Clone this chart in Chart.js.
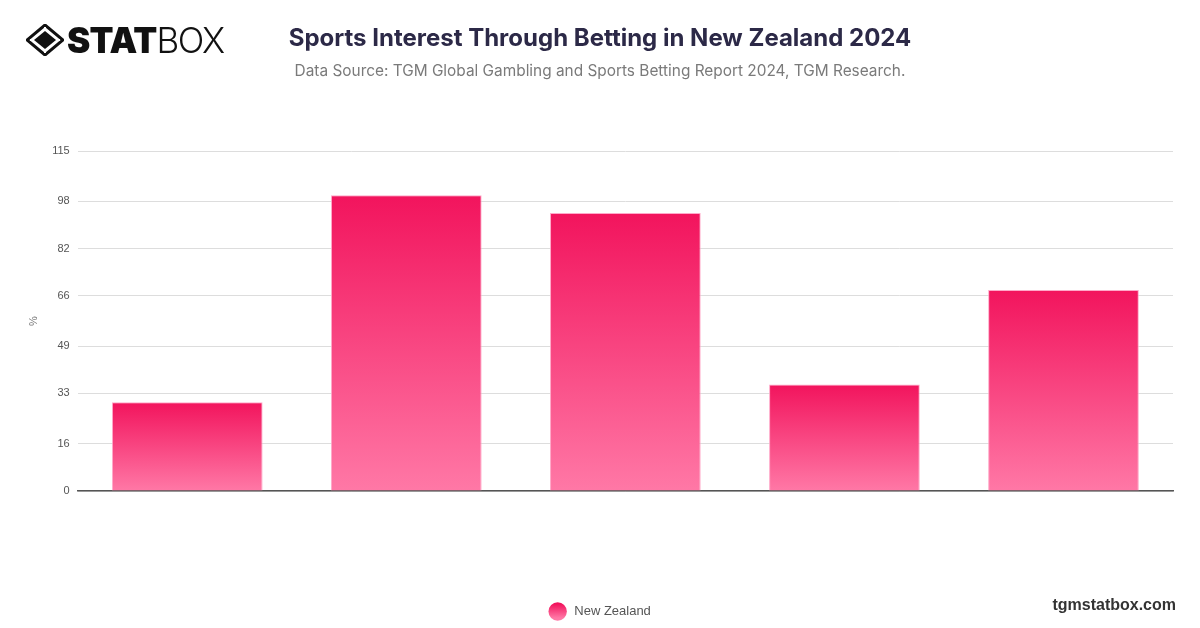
<!DOCTYPE html>
<html>
<head>
<meta charset="utf-8">
<script src="https://cdn.jsdelivr.net/npm/chart.js@4/dist/chart.umd.min.js"></script>
<style>
    html, body { margin: 0; padding: 0; background: #fff; }
    #page { position: relative; width: 1200px; height: 628px; overflow: hidden; font-family: Inter, 'Noto Sans', sans-serif; }
    #logo { position: absolute; left: 26px; top: 22px; height: 36px; display: flex; align-items: center; }
    #logo .stat { font-family: Inter, sans-serif; font-weight: 900; font-size: 35px; letter-spacing: -0.8px; color: #111; margin-left: 3px; }
    #logo .box { font-family: Inter, sans-serif; font-weight: 300; font-size: 35px; letter-spacing: -1.5px; color: #111; }
    #title { position: absolute; left: 0; width: 1200px; top: 23px; text-align: center; font-weight: 700; font-size: 24px; color: #2c2947; }
    #subtitle { position: absolute; left: 0; width: 1200px; top: 61px; text-align: center; font-weight: 400; font-size: 15.4px; color: #7a7a7a; }
    #brand { position: absolute; right: 24px; top: 596px; font-family: 'Liberation Sans', Arial, sans-serif; font-weight: 700; font-size: 16px; color: #333; }
    #wrap { position: absolute; left: 0; top: 0; width: 1200px; height: 628px; }
</style>
</head>
<body>
<div id="page">
    <div id="wrap"><canvas id="chart" width="1200" height="628"></canvas></div>
    <div id="logo">
        <svg width="38" height="32" viewBox="0 0 38 32">
            <path d="M19 1 L37 16 L19 31 L1 16 Z" fill="none" stroke="#111" stroke-width="3"/>
            <path d="M19 7 L30 16 L19 25 L8 16 Z" fill="#111"/>
            <path d="M4 16 L8 16 M30 16 L34 16 M19 3 L19 7 M19 25 L19 29" stroke="#fff" stroke-width="2"/>
        </svg>
        <span class="stat">STAT</span><span class="box">BOX</span>
    </div>
    <div id="title">Sports Interest Through Betting in New Zealand 2024</div>
    <div id="subtitle">Data Source: TGM Global Gambling and Sports Betting Report 2024, TGM Research.</div>
    <div id="brand">tgmstatbox.com</div>
</div>
<script>
// ---------------------------------------------------------------------------
// Data
// ---------------------------------------------------------------------------

const categories = ['Rugby', 'Football', 'Cricket', 'Basketball', 'Horse Racing'];
const seriesName = 'New Zealand';
const seriesValues = [30, 100, 94, 36, 68];
const yTickValues = [0, 16, 33, 49, 66, 82, 98, 115];

const topColour = '#f2145d';
const bottomColour = '#ff78a6';

Chart.defaults.animation = false;
Chart.defaults.font.family = "'Liberation Sans', Arial, sans-serif";

function barGradient(context) {
    const chart = context.chart;
    const yScale = chart.scales.y;
    if (!yScale || !chart.chartArea) return topColour;
    const value = context.raw;
    const top = yScale.getPixelForValue(value);
    const base = yScale.getPixelForValue(0);
    const gradient = chart.ctx.createLinearGradient(0, top, 0, base);
    gradient.addColorStop(0, topColour);
    gradient.addColorStop(1, bottomColour);
    return gradient;
}

function legendGradient(chart) {
    const gradient = chart.ctx.createLinearGradient(0, 604, 0, 618);
    gradient.addColorStop(0, topColour);
    gradient.addColorStop(1, bottomColour);
    return gradient;
}

// nudge the legend so it sits centred on the page rather than the padded box
const legendShift = {
    id: 'legendShift',
    afterLayout(chart) {
        chart.legend.left += 4;
        chart.legend.right += 4;
    }
};

new Chart(document.getElementById('chart'), {
    type: 'bar',
    data: {
        labels: categories,
        datasets: [{
            label: seriesName,
            data: seriesValues,
            backgroundColor: barGradient,
            borderColor: 'rgba(255, 160, 195, 0.9)',
            borderWidth: 1,
            categoryPercentage: 0.8,
            barPercentage: 0.86
        }]
    },
    plugins: [legendShift],
    options: {
        responsive: false,
        maintainAspectRatio: false,
        layout: { padding: { top: 151, left: 21, right: 27, bottom: 0 } },
        plugins: {
            title: { display: false },
            tooltip: { enabled: false },
            legend: {
                position: 'bottom',
                labels: {
                    usePointStyle: true,
                    pointStyle: 'circle',
                    boxWidth: 14,
                    boxHeight: 14,
                    padding: 10,
                    color: '#555',
                    font: { size: 13 },
                    generateLabels(chart) {
                        return [{
                            text: ' ' + seriesName,
                            fillStyle: legendGradient(chart),
                            strokeStyle: 'rgba(255, 160, 195, 0.9)',
                            fontColor: '#555',
                            lineWidth: 0,
                            pointStyle: 'circle',
                            hidden: false,
                            datasetIndex: 0
                        }];
                    }
                }
            }
        },
        scales: {
            x: {
                grid: { display: false },
                border: { display: true, color: '#555', width: 1.5 },
                ticks: { display: false },
                afterFit(scale) { scale.height = 104; }
            },
            y: {
                min: 0,
                max: 115,
                afterBuildTicks(scale) {
                    scale.ticks = yTickValues.map(v => ({ value: v }));
                },
                grid: { color: '#dddddd', drawTicks: false },
                border: { display: false },
                ticks: {
                    padding: 8,
                    color: '#555',
                    font: { size: 11 }
                },
                title: {
                    display: true,
                    text: '%',
                    color: '#777',
                    font: { size: 11 },
                    padding: { top: 6, bottom: 4 }
                }
            }
        }
    }
});
</script>
</body>
</html>
